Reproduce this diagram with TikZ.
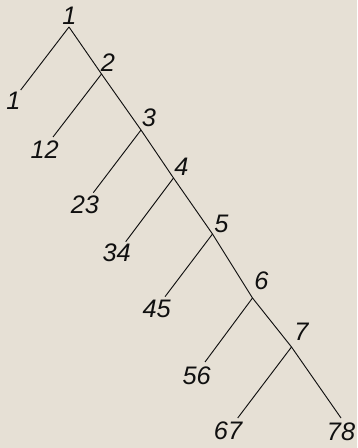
\documentclass[tikz,border=0pt]{standalone}
\usepackage{fontspec}
\setmainfont{Liberation Sans}
\usepackage{xcolor}
\usepackage{tikz}
\usetikzlibrary{positioning}
\definecolor{paperbg}{HTML}{E6E0D5}
\definecolor{inkc}{HTML}{101010}

\begin{document}
\begin{tikzpicture}[x=0.75pt,y=-0.75pt,
  lbl/.style={font=\fontsize{19}{22}\selectfont\itshape,text=inkc,inner sep=0pt},
  edge/.style={draw=inkc,line width=0.7pt},
]
\fill[paperbg] (0,0) rectangle (357,448);
\useasboundingbox (0,0) rectangle (357,448);

% junctions on the spine
\coordinate (j1) at (69,27);
\coordinate (j2) at (101.5,74);
\coordinate (j3) at (141,130);
\coordinate (j4) at (173.5,178);
\coordinate (j5) at (212.5,234);
\coordinate (j6) at (252.5,298);
\coordinate (j7) at (291.5,347);
\coordinate (e8) at (341,418);
% free ends of the left branches
\coordinate (a1) at (20.7,90);
\coordinate (a2) at (53,137);
\coordinate (a3) at (93.3,192.7);
\coordinate (a4) at (125.7,241.7);
\coordinate (a5) at (165,296.7);
\coordinate (a6) at (205,362);
\coordinate (a7) at (237.7,418);

\draw[edge] (j1) -- (j2) -- (j3) -- (j4) -- (j5) -- (j6) -- (j7) -- (e8);
\draw[edge] (j1) -- (a1);
\draw[edge] (j2) -- (a2);
\draw[edge] (j3) -- (a3);
\draw[edge] (j4) -- (a4);
\draw[edge] (j5) -- (a5);
\draw[edge] (j6) -- (a6);
\draw[edge] (j7) -- (a7);

% junction labels
\node[lbl] (t1) at (69.5,15.5) {1};
\node[lbl] (t2) at (108,63) {2};
\node[lbl] (t3) at (149,118) {3};
\node[lbl] (t4) at (181.5,166.5) {4};
\node[lbl] (t5) at (221.5,224) {5};
\node[lbl] (t6) at (261.5,280.5) {6};
\node[lbl] (t7) at (301.5,332) {7};
% leaf labels
\node[lbl] (b1) at (13.5,101) {1};
\node[lbl] (b12) at (44.7,150) {12};
\node[lbl] (b23) at (85,205) {23};
\node[lbl] (b34) at (116.7,253) {34};
\node[lbl] (b45) at (156.7,309) {45};
\node[lbl] (b56) at (196.7,376) {56};
\node[lbl] (b67) at (228,431) {67};
\node[lbl] (b78) at (341,432) {78};
\end{tikzpicture}
\end{document}
